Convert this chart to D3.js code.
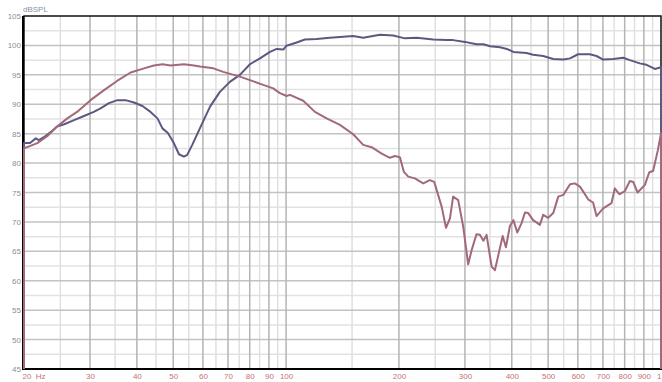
<!DOCTYPE html>
<html>
<head>
<meta charset="utf-8">
<script src="https://cdn.jsdelivr.net/npm/d3@7"></script>
<style>
  html, body { margin: 0; padding: 0; background: #fff; }
  svg { display: block; font-family: "Liberation Sans", Arial, sans-serif; }
</style>
</head>
<body>
<svg id="chart" width="662" height="382"></svg>
<script>
// Frequency response, dB SPL vs frequency (Hz)
const freqA = [20, 20.75, 21.5, 21.9, 22.6, 23.6, 24.5, 25.6, 27.2, 28.9, 30.7, 32.0, 33.7, 35.5, 37.3, 39.3, 41.4, 43.5, 45.4, 46.8, 48.4, 50.2, 51.8, 53.4, 54.5, 56.2, 58.9, 62.7, 66.6, 70.8, 75.3, 80.1, 85.2, 90.6, 94.4, 98.3, 100.3, 106.7, 112.3, 120.6, 130.9, 151, 160.6, 178, 193.1, 207.5, 223, 247, 268, 279, 300, 322, 336, 350, 372, 388, 404, 438, 456, 485, 516, 549, 572, 601, 646, 673, 701, 746, 793, 826, 878, 915, 963, 1000];
const splA  = [83.4, 83.4, 84.2, 83.9, 84.4, 85.3, 86.2, 86.6, 87.3, 88.0, 88.7, 89.3, 90.2, 90.7, 90.7, 90.3, 89.7, 88.7, 87.6, 85.9, 85.1, 83.4, 81.5, 81.1, 81.4, 83.1, 85.9, 89.6, 92.1, 93.8, 95.0, 96.8, 97.8, 98.9, 99.4, 99.3, 99.95, 100.5, 101.0, 101.1, 101.3, 101.6, 101.3, 101.8, 101.7, 101.2, 101.3, 101.0, 100.9, 100.9, 100.6, 100.2, 100.2, 99.85, 99.7, 99.4, 98.9, 98.7, 98.4, 98.2, 97.7, 97.6, 97.8, 98.5, 98.5, 98.2, 97.6, 97.7, 97.9, 97.5, 96.95, 96.7, 96.0, 96.3];

const freqB = [20, 21.7, 23.1, 24.5, 26.1, 27.7, 30.1, 32.7, 35.5, 38.5, 41.8, 44.4, 46.8, 49.2, 53.4, 56.8, 58.9, 64.0, 68.0, 75.3, 80.1, 86.9, 92.4, 96.3, 100.3, 102.4, 111.1, 119.4, 128.3, 139.2, 151, 160.6, 169.1, 179.9, 189.2, 195.1, 201.2, 206.2, 211.8, 220.6, 232.2, 241.8, 248.4, 260, 267, 273.6, 279, 287.8, 296.8, 306, 312.6, 322, 328.8, 336, 342.6, 353.4, 360.6, 378.2, 385.8, 395.4, 404, 413.6, 424.8, 433.6, 442.4, 456, 475.4, 485, 500.2, 516, 532, 549, 572, 589, 608, 640, 659, 673, 701, 738, 753, 774, 801, 826, 843, 866, 906, 930, 953, 981, 1000];
const splB  = [82.5, 83.4, 84.6, 86.2, 87.6, 88.7, 90.7, 92.4, 94.0, 95.4, 96.1, 96.6, 96.8, 96.6, 96.8, 96.6, 96.4, 96.1, 95.5, 94.7, 94.1, 93.3, 92.7, 91.9, 91.4, 91.6, 90.6, 88.7, 87.6, 86.5, 84.9, 83.1, 82.7, 81.6, 80.9, 81.2, 81.0, 78.5, 77.7, 77.4, 76.55, 77.1, 76.8, 72.6, 69.0, 70.6, 74.3, 73.7, 69.2, 62.8, 65.2, 67.9, 67.8, 66.8, 67.8, 62.4, 61.8, 67.6, 65.7, 69.3, 70.3, 68.2, 69.8, 71.6, 71.5, 70.3, 69.5, 71.2, 70.7, 71.5, 74.3, 74.6, 76.4, 76.55, 76.0, 73.8, 73.3, 71.0, 72.3, 73.2, 75.7, 74.7, 75.25, 76.95, 76.8, 75.0, 76.3, 78.4, 78.7, 82.2, 85.1];

const xTicks = [20, 30, 40, 50, 60, 70, 80, 90, 100, 200, 300, 400, 500, 600, 700, 800, 900, 1000];
const xTickLabels = ["20\u00a0\u00a0Hz", "30", "40", "50", "60", "70", "80", "90", "100", "200", "300", "400", "500", "600", "700", "800", "900", "1"];
const yTicks = [45, 50, 55, 60, 65, 70, 75, 80, 85, 90, 95, 100, 105];

const plotL = 24, plotR = 661, plotT = 16, plotB = 369;

const svg = d3.select("#chart");
const x = d3.scaleLog().domain([20, 1000]).range([plotL, plotR]);
const y = d3.scaleLinear().domain([45, 105]).range([plotB, plotT]);

// grid: lighter lines at the half steps, darker at decade multiples / 5 dB
const xMinor = d3.range(25, 100, 10).concat(d3.range(150, 1000, 100));
const xMajor = xTicks.filter(v => v > 20 && v < 1000);
const yMinor = d3.range(47.5, 105, 5);
const yMajor = yTicks.filter(v => v > 45 && v < 105);

const grid = svg.append("g");
grid.selectAll("line.yminor").data(yMinor).join("line")
  .attr("x1", plotL).attr("x2", plotR).attr("y1", d => y(d)).attr("y2", d => y(d))
  .attr("stroke", "#e2e2e2").attr("stroke-width", 1.5);
grid.selectAll("line.xminor").data(xMinor).join("line")
  .attr("y1", plotT).attr("y2", plotB).attr("x1", d => x(d)).attr("x2", d => x(d))
  .attr("stroke", "#e0e0e0").attr("stroke-width", 1.5);
grid.selectAll("line.ymajor").data(yMajor).join("line")
  .attr("x1", plotL).attr("x2", plotR).attr("y1", d => y(d)).attr("y2", d => y(d))
  .attr("stroke", "#c2c2c2").attr("stroke-width", 1.5);
grid.selectAll("line.xmajor").data(xMajor).join("line")
  .attr("y1", plotT).attr("y2", plotB).attr("x1", d => x(d)).attr("x2", d => x(d))
  .attr("stroke", "#b4b4b4").attr("stroke-width", 1.5);

// frame
svg.append("rect")
  .attr("x", plotL).attr("y", plotT).attr("width", plotR - plotL).attr("height", plotB - plotT)
  .attr("fill", "none").attr("stroke", "#111").attr("stroke-width", 1.5);
svg.append("line").attr("x1", plotL - 1).attr("x2", plotL - 1).attr("y1", plotT).attr("y2", plotB + 1)
  .attr("stroke", "#000").attr("stroke-width", 2);
svg.append("line").attr("x1", plotL - 1).attr("x2", plotR + 1).attr("y1", plotB).attr("y2", plotB)
  .attr("stroke", "#000").attr("stroke-width", 2);

// response curves, closed down to the floor at both ends
function curvePath(fs, vs) {
  const pts = fs.map((f, i) => [x(f), y(vs[i])]);
  pts.unshift([x(fs[0]), plotB]);
  pts.push([x(fs[fs.length - 1]), plotB]);
  return d3.line()(pts);
}
svg.append("path").attr("d", curvePath(freqA, splA))
  .attr("fill", "none").attr("stroke", "#5c5880").attr("stroke-width", 2)
  .attr("stroke-linejoin", "round");
svg.append("path").attr("d", curvePath(freqB, splB))
  .attr("fill", "none").attr("stroke", "#a2697b").attr("stroke-width", 2)
  .attr("stroke-linejoin", "round");

// y axis labels
const yAxis = svg.append("g").attr("transform", `translate(${plotL},0)`)
  .call(d3.axisLeft(y).tickValues(yTicks).tickSize(0).tickPadding(3).tickFormat(d3.format("d")));
yAxis.select(".domain").remove();
yAxis.selectAll("text").attr("fill", "#8590a0").attr("font-size", 8)
  .attr("font-family", "Liberation Sans, Arial, sans-serif");

// x axis labels
const xAxis = svg.append("g").attr("transform", `translate(0,${plotB})`)
  .call(d3.axisBottom(x).tickValues(xTicks).tickSize(0).tickPadding(4)
    .tickFormat((d, i) => xTickLabels[i]));
xAxis.select(".domain").remove();
xAxis.selectAll("text").attr("fill", "#c27474").attr("font-size", 8)
  .attr("font-family", "Liberation Sans, Arial, sans-serif");
xAxis.selectAll("text").filter(d => d === 20).attr("text-anchor", "start").attr("dx", -2);
xAxis.selectAll("text").filter(d => d === 1000).attr("text-anchor", "end").attr("dx", 0);

svg.append("text").attr("x", 23).attr("y", 12).text("dBSPL")
  .attr("fill", "#8590a0").attr("font-size", 8);
</script>
</body>
</html>
